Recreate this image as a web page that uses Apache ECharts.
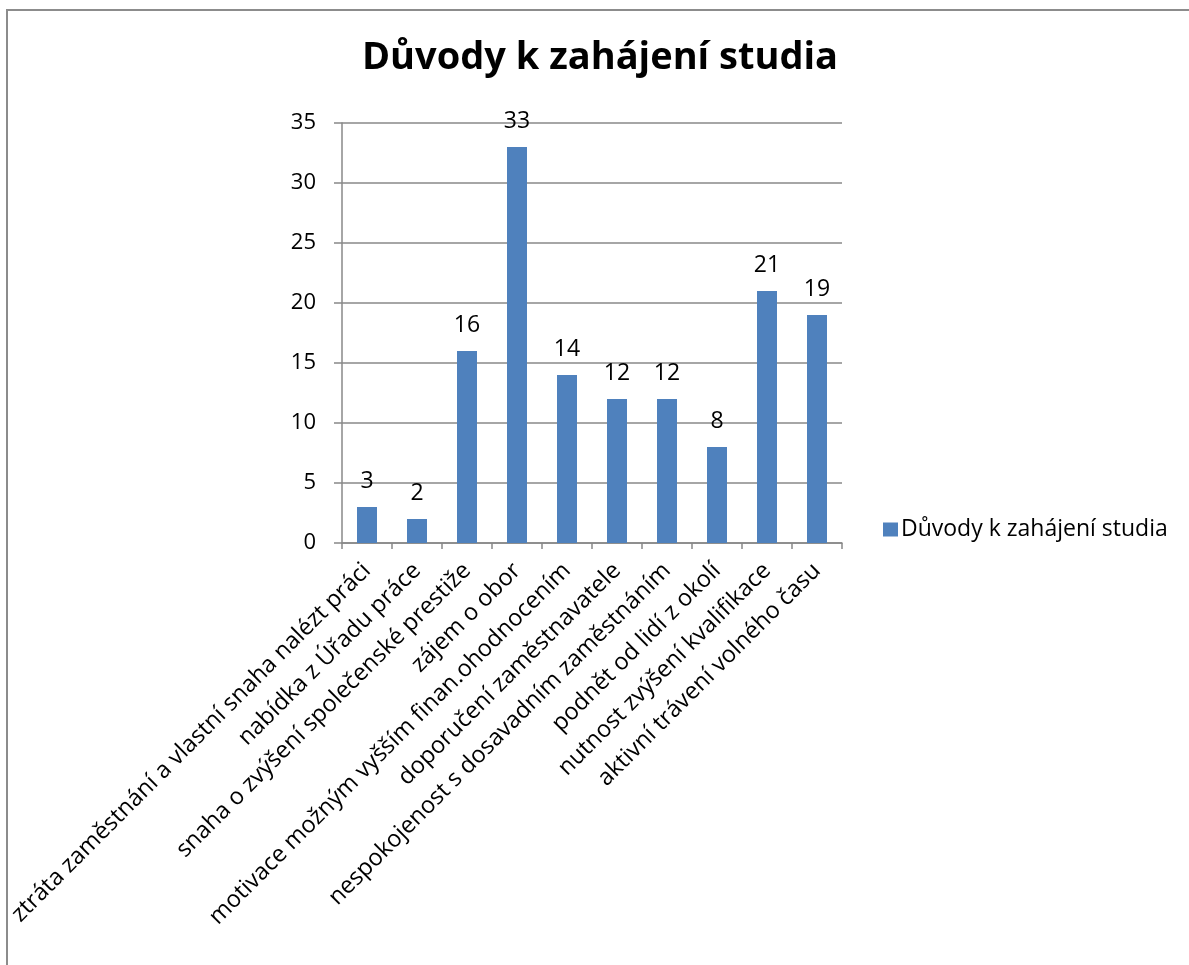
<!DOCTYPE html>
<html>
<head>
<meta charset="utf-8">
<script src="https://cdn.jsdelivr.net/npm/echarts@6/dist/echarts.min.js"></script>
<style>
html,body{margin:0;padding:0;background:#fff;overflow:hidden;}
#chart{width:1189px;height:965px;}
</style>
</head>
<body>
<div id="chart"></div>
<script>
const titleText = "Důvody k zahájení studia";
const seriesName = "Důvody k zahájení studia";
const categories = [
  "ztráta zaměstnání a vlastní snaha nalézt práci",
  "nabídka z Úřadu práce",
  "snaha o zvýšení společenské prestiže",
  "zájem o obor",
  "motivace možným vyšším finan.ohodnocením",
  "doporučení zaměstnavatele",
  "nespokojenost s dosavadním zaměstnáním",
  "podnět od lidí z okolí",
  "nutnost zvýšení kvalifikace",
  "aktivní trávení volného času"
];
const values = [3, 2, 16, 33, 14, 12, 12, 8, 21, 19];
const yMin = 0, yMax = 35, yStep = 5;

const FONT = "'Open Sans', sans-serif";
const chart = echarts.init(document.getElementById('chart'), null, {renderer: 'canvas'});
chart.setOption({
  animation: false,
  backgroundColor: '#fff',
  textStyle: {fontFamily: FONT},
  title: {
    text: titleText,
    top: 34,
    left: 595,
    textAlign: 'center',
    textStyle: {fontFamily: FONT, fontSize: 38, fontWeight: 'bold', color: '#000'}
  },
  legend: {
    data: [seriesName],
    left: 878,
    top: 513,
    itemWidth: 15,
    itemHeight: 14,
    itemGap: 4,
    icon: 'rect',
    textStyle: {fontFamily: FONT, fontSize: 23, color: '#000', padding: [0,0,0,-2]}
  },
  grid: {left: 342, top: 123, width: 500, height: 420, containLabel: false},
  xAxis: {
    type: 'category',
    data: categories,
    axisLine: {lineStyle: {color: '#888', width: 1.5}},
    axisTick: {show: true, alignWithLabel: false, length: 6, inside: false, lineStyle: {color: '#888', width: 1.5}},
    axisLabel: {rotate: 45, interval: 0, margin: 24, fontFamily: FONT, fontSize: 23.5, color: '#000'}
  },
  yAxis: {
    type: 'value',
    min: yMin, max: yMax, interval: yStep,
    axisLine: {show: true, lineStyle: {color: '#888', width: 1.5}},
    axisTick: {show: true, length: 8, lineStyle: {color: '#888', width: 1.5}},
    splitLine: {show: true, lineStyle: {color: '#888', width: 1.5}},
    axisLabel: {margin: 26, fontFamily: FONT, fontSize: 22, color: '#000'}
  },
  series: [{
    name: seriesName,
    type: 'bar',
    data: values,
    barWidth: 20,
    itemStyle: {color: '#4F81BD'},
    label: {show: true, position: 'top', distance: 14, fontFamily: FONT, fontSize: 23, color: '#000'}
  }],
  graphic: [{
    type: 'polyline',
    shape: {points: [[7, 1100], [7, 10], [1400, 10]]},
    style: {fill: null, stroke: '#8c8c8c', lineWidth: 2},
    silent: true
  }]
});
</script>
</body>
</html>
